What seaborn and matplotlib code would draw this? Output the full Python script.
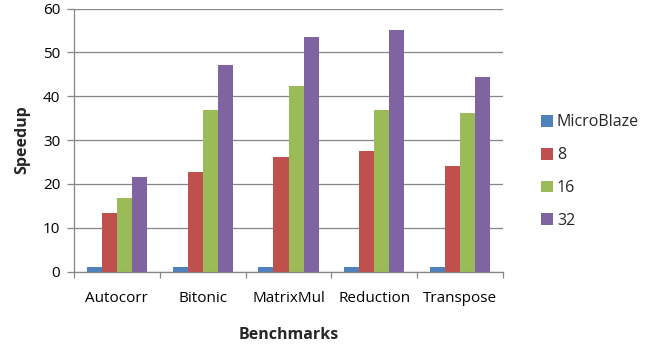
import numpy as np
import pandas as pd
import matplotlib
matplotlib.use("Agg")
import matplotlib.pyplot as plt
import seaborn as sns
from matplotlib.patches import Patch

benchmarks = ["Autocorr", "Bitonic", "MatrixMul", "Reduction", "Transpose"]
series = ["MicroBlaze", "8", "16", "32"]
microblaze = [1, 1, 1, 1, 1]
cores_8 = [13.4, 22.7, 26.1, 27.5, 24.1]
cores_16 = [16.8, 36.8, 42.3, 36.8, 36.2]
cores_32 = [21.6, 47.1, 53.5, 55.1, 44.4]
colors = ["#4F81BD", "#C0504D", "#9BBB59", "#8064A2"]

rows = []
for name, vals in zip(series, [microblaze, cores_8, cores_16, cores_32]):
    for b, v in zip(benchmarks, vals):
        rows.append({"Benchmark": b, "Series": name, "Speedup": v})
df = pd.DataFrame(rows)

sns.set_style("white")
plt.rcParams["font.family"] = ["Open Sans", "DejaVu Sans"]

fig = plt.figure(figsize=(6.46, 3.46), dpi=100)
ax = fig.add_axes([0.1146, 0.2153, 0.664, 0.7601])

sns.barplot(data=df, x="Benchmark", y="Speedup", hue="Series", palette=colors,
            width=0.7, gap=0, saturation=1, linewidth=0, ax=ax, legend=False)

ax.set_ylim(0, 60)
ax.set_xlim(-0.5, 4.5)
ax.set_yticks(range(0, 61, 10))
ax.yaxis.grid(True, color="#868686", linewidth=0.9)
ax.set_axisbelow(True)
for s in ["top", "right"]:
    ax.spines[s].set_visible(False)
for s in ["left", "bottom"]:
    ax.spines[s].set_color("#868686")
    ax.spines[s].set_linewidth(0.9)

ax.set_xticks(np.arange(5))
ax.set_xticklabels(benchmarks)
ax.set_xticks(np.arange(-0.5, 5, 1), minor=True)
ax.tick_params(axis="x", which="major", length=0, pad=14, labelsize=11, colors="#000000")
ax.tick_params(axis="x", which="minor", length=4, width=0.9, color="#868686", direction="out")
ax.tick_params(axis="y", length=5, width=0.9, color="#868686", direction="out", labelsize=11, pad=5)
ax.tick_params(axis="y", labelcolor="#000000")
ax.yaxis.set_ticks_position("left")
ax.xaxis.set_ticks_position("bottom")

ax.set_xlabel("Benchmarks", fontsize=11.5, fontweight="bold", labelpad=15)
ax.set_ylabel("Speedup", fontsize=11.5, fontweight="bold", labelpad=9)

handles = [Patch(facecolor=c, edgecolor="none") for c in colors]
fig.legend(handles, series, loc="center left", bbox_to_anchor=(0.815, 0.504),
           frameon=False, fontsize=11.5, handlelength=0.75, handleheight=0.75,
           handletextpad=0.25, labelspacing=1.05)

fig.savefig("out.png", dpi=100)
